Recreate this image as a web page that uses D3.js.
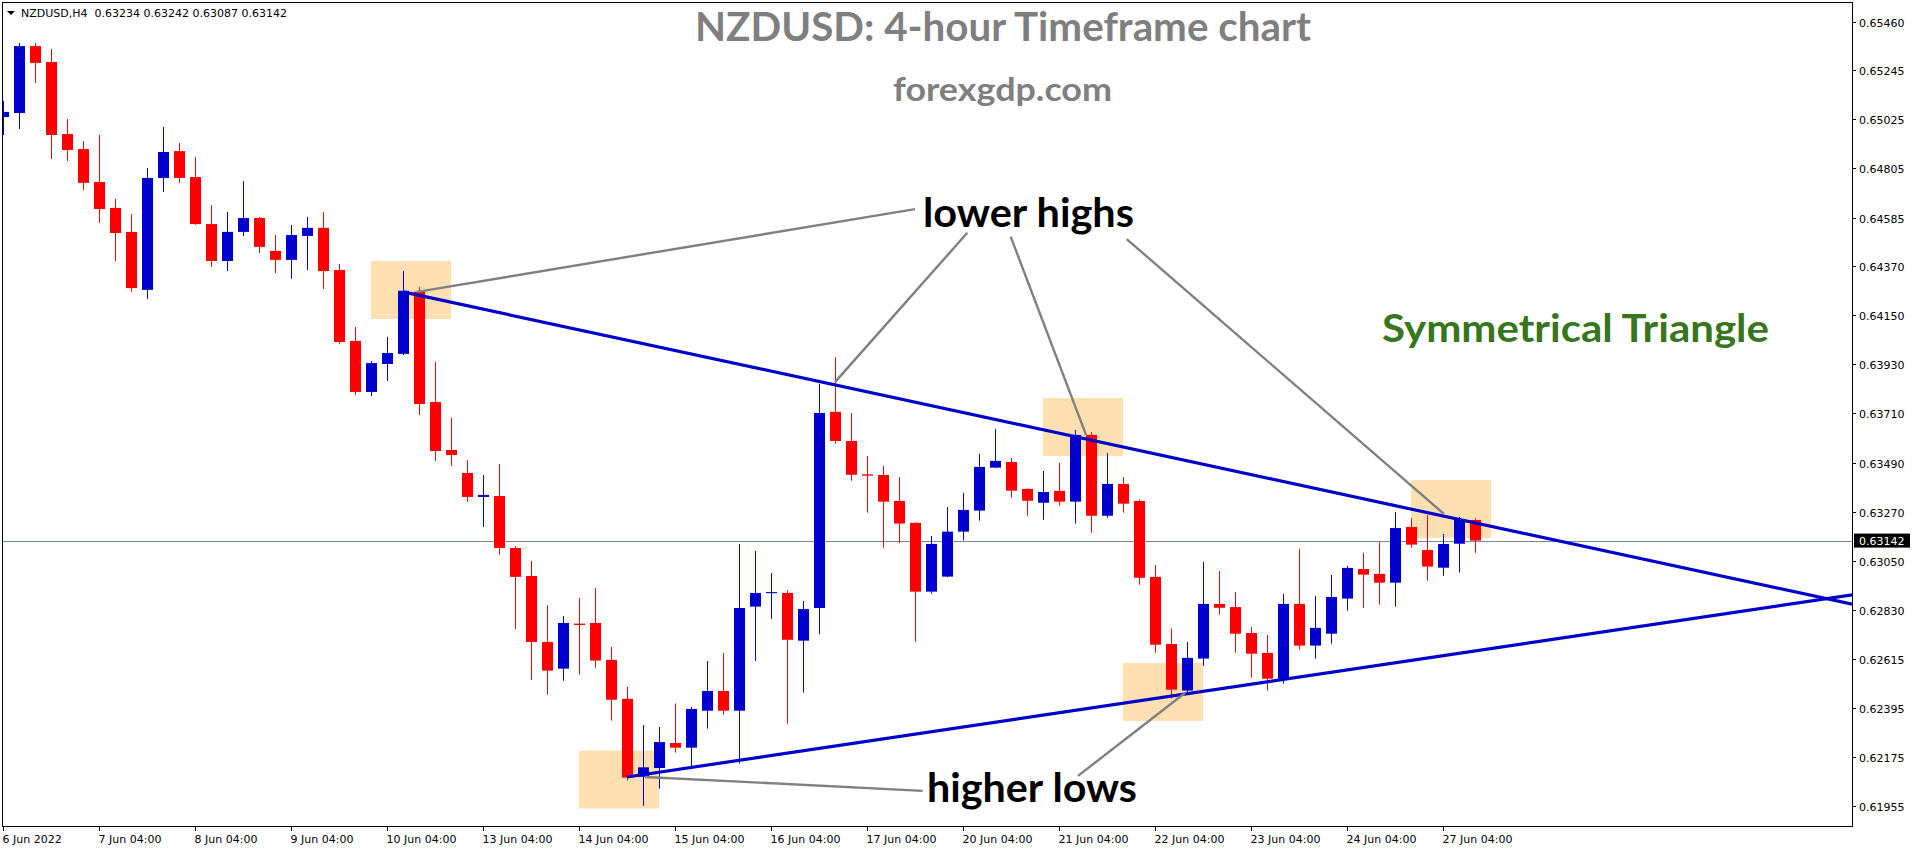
<!DOCTYPE html>
<html><head><meta charset="utf-8">
<script src="https://cdn.jsdelivr.net/npm/d3@7/dist/d3.min.js"></script>
<style>html,body{margin:0;padding:0;background:#fff;overflow:hidden}svg{display:block}</style>
</head><body>
<svg id="c" width="1916" height="850"></svg>
<script>
// ---------------- DATA ----------------
const symbolLabel = "NZDUSD,H4";
const lastQuote = [0.63234, 0.63242, 0.63087, 0.63142];
const currentPrice = 0.63142;

const opens = [0.65034,0.65052,0.65351,0.65280,0.64958,0.64891,0.64744,0.64628,0.64521,0.64262,
0.64762,0.64882,0.64766,0.64556,0.64391,0.64521,0.64583,0.64436,0.64396,0.64503,
0.64539,0.64351,0.64034,0.63806,0.63931,0.63976,0.64254,0.63761,0.63547,0.63444,
0.63337,0.63341,0.63109,0.62984,0.62689,0.62570,0.62771,0.62774,0.62609,0.62435,
0.62087,0.62126,0.62238,0.62217,0.62382,0.62470,0.62382,0.62847,0.62907,0.62908,
0.62695,0.62841,0.63717,0.63587,0.63438,0.63435,0.63319,0.63221,0.62914,0.62981,
0.63182,0.63276,0.63468,0.63493,0.63373,0.63311,0.63364,0.63316,0.63614,0.63253,
0.63395,0.63319,0.62980,0.62680,0.62472,0.62615,0.62859,0.62845,0.62729,0.62640,
0.62525,0.62859,0.62673,0.62726,0.62883,0.63015,0.62993,0.62954,0.63203,0.63100,
0.63021,0.63128,0.63234];
const highs = [0.65106,0.65365,0.65365,0.65338,0.65025,0.64927,0.64954,0.64668,0.64601,0.64807,
0.64990,0.64918,0.64856,0.64641,0.64610,0.64748,0.64588,0.64507,0.64552,0.64588,
0.64610,0.64378,0.64096,0.63944,0.64052,0.64346,0.64275,0.63940,0.63690,0.63502,
0.63435,0.63484,0.63118,0.63051,0.62854,0.62805,0.62886,0.62930,0.62667,0.62488,
0.62318,0.62309,0.62414,0.62399,0.62604,0.62640,0.63127,0.63096,0.62997,0.62921,
0.62872,0.63842,0.63962,0.63712,0.63520,0.63475,0.63426,0.63223,0.63163,0.63292,
0.63355,0.63529,0.63641,0.63511,0.63375,0.63453,0.63489,0.63636,0.63627,0.63533,
0.63426,0.63325,0.63033,0.62749,0.62689,0.63047,0.63006,0.62912,0.62756,0.62720,
0.62904,0.63105,0.62895,0.62988,0.63029,0.63087,0.63136,0.63270,0.63243,0.63256,
0.63172,0.63248,0.63242];
const lows = [0.64954,0.64981,0.65186,0.64847,0.64838,0.64708,0.64561,0.64391,0.64253,0.64221,
0.64699,0.64740,0.64553,0.64364,0.64346,0.64503,0.64427,0.64337,0.64312,0.64351,
0.64266,0.64020,0.63792,0.63788,0.63855,0.63970,0.63703,0.63498,0.63475,0.63315,
0.63203,0.63078,0.62747,0.62519,0.62454,0.62516,0.62543,0.62574,0.62338,0.62070,
0.61958,0.62034,0.62195,0.62132,0.62302,0.62364,0.62146,0.62604,0.62792,0.62324,
0.62463,0.62725,0.63575,0.63410,0.63267,0.63110,0.63131,0.62690,0.62905,0.62979,
0.63143,0.63231,0.63466,0.63334,0.63253,0.63235,0.63298,0.63218,0.63177,0.63244,
0.63267,0.62945,0.62641,0.62436,0.62454,0.62582,0.62811,0.62641,0.62530,0.62472,
0.62503,0.62655,0.62615,0.62682,0.62829,0.62842,0.62856,0.62847,0.63110,0.62963,
0.62985,0.62999,0.63087];
const closes = [0.65057,0.65351,0.65276,0.64954,0.64887,0.64740,0.64623,0.64516,0.64270,0.64762,
0.64878,0.64762,0.64556,0.64391,0.64521,0.64583,0.64454,0.64396,0.64507,0.64539,
0.64346,0.64029,0.63806,0.63935,0.63980,0.64258,0.63752,0.63542,0.63524,0.63337,
0.63346,0.63109,0.62980,0.62689,0.62561,0.62774,0.62765,0.62606,0.62431,0.62083,
0.62129,0.62242,0.62217,0.62390,0.62470,0.62382,0.62841,0.62908,0.62912,0.62699,
0.62836,0.63712,0.63587,0.63436,0.63432,0.63316,0.63218,0.62914,0.63127,0.63182,
0.63279,0.63471,0.63498,0.63365,0.63320,0.63359,0.63316,0.63614,0.63253,0.63395,
0.63307,0.62976,0.62677,0.62476,0.62618,0.62859,0.62842,0.62726,0.62637,0.62525,
0.62859,0.62673,0.62752,0.62890,0.63020,0.62990,0.62954,0.63198,0.63124,0.63026,
0.63127,0.63234,0.63142];

const timeTickIndex = [0,6,12,18,24,30,36,42,48,54,60,66,72,78,84,90];
const timeTickLabels = ["6 Jun 2022","7 Jun 04:00","8 Jun 04:00","9 Jun 04:00","10 Jun 04:00",
"13 Jun 04:00","14 Jun 04:00","15 Jun 04:00","16 Jun 04:00","17 Jun 04:00","20 Jun 04:00",
"21 Jun 04:00","22 Jun 04:00","23 Jun 04:00","24 Jun 04:00","27 Jun 04:00"];
const priceTickLabels = ["0.65460","0.65245","0.65025","0.64805","0.64585","0.64370","0.64150",
"0.63930","0.63710","0.63490","0.63270","0.63050","0.62830","0.62615","0.62395","0.62175","0.61955"];

// trend lines: [candle index, price] anchor pairs
const upperTrend = [[25, 0.64253], [90, 0.63252]];
const lowerTrend = [[39, 0.62086], [90, 0.62628]];
// highlight zones: [from index, to index, top price, bottom price]
const zones = [[23,28,0.64391,0.64132],[65,70,0.63779,0.63520],[70,75,0.62595,0.62336],
[88,93,0.63413,0.63154],[36,41,0.62204,0.61945]];
// pointer lines: [index1, price1, index2, price2]
const pointers = [[25.875,0.64253,57.0,0.64623],[60.27,0.64517,52.0,0.63850],
[62.98,0.64500,67.69,0.63614],[70.23,0.64489,90.06,0.63261],
[40.125,0.62086,57.48,0.62024],[67.19,0.62091,73.875,0.62461]];

const titleText = "NZDUSD: 4-hour Timeframe chart";
const siteText = "forexgdp.com";
const patternText = "Symmetrical Triangle";
const highsText = "lower highs";
const lowsText = "higher lows";

// ---------------- DRAW ----------------
const svg = d3.select("#c");
const L = 2, T = 2, R = 1852, B = 826;
const n = closes.length;
const x = d3.scaleLinear().domain([0, n - 1]).range([3, 3 + 16 * (n - 1)]);
const y = d3.scaleLinear().domain([0.61955, 0.65460]).range([806.3, 21.7]);
const BULL = "#0000CD", BEAR = "#FF0000";

svg.append("rect").attr("width",1916).attr("height",850).attr("fill","#fff");
svg.append("defs").append("clipPath").attr("id","pc")
  .append("rect").attr("x",L).attr("y",T).attr("width",R-L).attr("height",B-T);
const plot = svg.append("g").attr("clip-path","url(#pc)");

// zones
plot.selectAll("rect.zone").data(zones).enter().append("rect").attr("class","zone")
  .attr("x", d => x(d[0])).attr("width", d => x(d[1]) - x(d[0]))
  .attr("y", d => y(d[2])).attr("height", d => y(d[3]) - y(d[2]))
  .attr("fill","#FDDFB1");

// current price line
plot.append("line").attr("x1",L).attr("x2",R)
  .attr("y1", Math.round(y(currentPrice))+0.5).attr("y2", Math.round(y(currentPrice))+0.5)
  .attr("stroke","#7A8A99").attr("stroke-width",1);

// candles
const idx = d3.range(n);
const cg = plot.append("g");
cg.selectAll("rect.wick").data(idx).enter().append("rect").attr("class","wick")
  .attr("x", i => Math.round(x(i))).attr("width",1)
  .attr("y", i => y(highs[i])).attr("height", i => Math.max(1, y(lows[i]) - y(highs[i])))
  .attr("fill", i => closes[i] >= opens[i] ? BULL : BEAR);
cg.selectAll("rect.body").data(idx).enter().append("rect").attr("class","body")
  .attr("x", i => Math.round(x(i)) - 5).attr("width",11)
  .attr("y", i => y(Math.max(opens[i], closes[i])))
  .attr("height", i => Math.max(1, Math.abs(y(opens[i]) - y(closes[i]))))
  .attr("fill", i => closes[i] >= opens[i] ? BULL : BEAR);

// trend lines extended to right edge
function trendPath(t){
  const s = (t[1][1]-t[0][1])/(t[1][0]-t[0][0]);
  const iEnd = x.invert(R + 5);
  return [[x(t[0][0]), y(t[0][1])], [x(iEnd), y(t[0][1] + s*(iEnd - t[0][0]))]];
}
[upperTrend, lowerTrend].forEach(t => {
  plot.append("path").attr("d", d3.line()(trendPath(t)))
    .attr("stroke", BULL).attr("stroke-width",3.2).attr("fill","none");
});

// pointer lines
plot.selectAll("line.ptr").data(pointers).enter().append("line")
  .attr("x1", d => x(d[0])).attr("y1", d => y(d[1]))
  .attr("x2", d => x(d[2])).attr("y2", d => y(d[3]))
  .attr("stroke","#808080").attr("stroke-width",2.4);

// annotation texts
function label(txt, xl, base, size, width, color){
  svg.append("text").text(txt).attr("x",xl).attr("y",base)
    .attr("font-family","Lato, 'Open Sans', sans-serif").attr("font-weight","bold")
    .attr("font-size",size).attr("fill",color)
    .attr("textLength",width).attr("lengthAdjust","spacingAndGlyphs");
}
label(titleText, 695, 41, 40, 616, "#7F7F7F");
label(siteText, 893, 101, 33, 219, "#7F7F7F");
label(patternText, 1382, 341.5, 39, 387, "#38761D");
label(highsText, 923, 226.7, 41, 211, "#000");
label(lowsText, 927, 801.7, 40, 210, "#000");

// frame
svg.append("rect").attr("x",L+0.5).attr("y",T+0.5).attr("width",R-L).attr("height",B-T)
  .attr("fill","none").attr("stroke","#000").attr("stroke-width",1);

// right axis
const ax = svg.append("g").attr("font-family","'DejaVu Sans', sans-serif").attr("font-size",11);
priceTickLabels.forEach(s => {
  const yy = Math.round(y(+s)) + 0.5;
  ax.append("line").attr("x1",R).attr("x2",R+4).attr("y1",yy).attr("y2",yy).attr("stroke","#000");
  ax.append("text").attr("x",R+7).attr("y",yy+4).text(s).attr("fill","#000");
});
// current price tag
const cy = y(currentPrice);
ax.append("rect").attr("x",R+2).attr("y",cy-7).attr("width",56).attr("height",14).attr("fill","#000");
ax.append("text").attr("x",R+7).attr("y",cy+4).text(currentPrice.toFixed(5)).attr("fill","#fff");

// bottom axis
timeTickIndex.forEach((ti, k) => {
  const xx = Math.round(x(ti)) + 0.5;
  ax.append("line").attr("x1",xx).attr("x2",xx).attr("y1",B).attr("y2",B+5).attr("stroke","#000");
  ax.append("text").attr("x",xx-1).attr("y",B+17).text(timeTickLabels[k]).attr("fill","#000");
});

// header
svg.append("path").attr("d","M7,11 L15,11 L11,15 Z").attr("fill","#000");
svg.append("text").attr("x",21).attr("y",17).attr("xml:space","preserve").style("white-space","pre")
  .attr("font-family","'DejaVu Sans', sans-serif").attr("font-size",11).attr("fill","#000")
  .text(symbolLabel + "  " + lastQuote.map(v => v.toFixed(5)).join(" "));
</script>
</body></html>
